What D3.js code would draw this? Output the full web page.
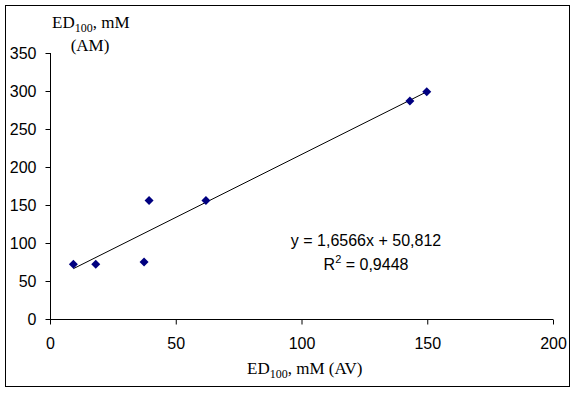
<!DOCTYPE html>
<html>
<head>
<meta charset="utf-8">
<script src="https://cdn.jsdelivr.net/npm/d3@7"></script>
<style>
body { margin: 0; background: #fff; }
</style>
</head>
<body>
<script>
// data
var xValues = [9.3, 18.2, 37.4, 39.4, 62, 143.1, 149.8];
var yValues = [72, 72, 75, 156, 156, 287, 299];
var xTicks = [0, 50, 100, 150, 200];
var yTicks = [0, 50, 100, 150, 200, 250, 300, 350];
var slope = 1.6566, intercept = 50.812;
var eqText = "y = 1,6566x + 50,812";
var r2Text = "0,9448";

var width = 576, height = 393;
var margin = {top: 53, right: 23, bottom: 74, left: 50};

var svg = d3.select("body").append("svg")
	.attr("width", width)
	.attr("height", height);

// outer frame
svg.append("rect")
	.attr("x", 5.5).attr("y", 5.5)
	.attr("width", 564).attr("height", 381)
	.attr("fill", "none").attr("stroke", "#000").attr("stroke-width", 1);

var xScale = d3.scaleLinear().domain([0, 200]).range([margin.left, width - margin.right]);
var yScale = d3.scaleLinear().domain([0, 350]).range([height - margin.bottom, margin.top]);

var xAxis = d3.axisBottom(xScale).tickValues(xTicks).tickSize(5).tickPadding(13);
var yAxis = d3.axisLeft(yScale).tickValues(yTicks).tickSize(5).tickPadding(9);

var gx = svg.append("g")
	.attr("transform", "translate(0," + (yScale(0) + 0.5) + ")")
	.call(xAxis);
var gy = svg.append("g")
	.attr("transform", "translate(" + (xScale(0) + 0.5) + ",0)")
	.call(yAxis);

[gx, gy].forEach(function(g) {
	g.select(".domain").remove();
	g.selectAll("text").attr("font-family", "Arial, 'Liberation Sans', sans-serif")
		.attr("font-size", 16).attr("fill", "#000");
	g.selectAll("line").attr("stroke", "#000");
});
// axis lines
svg.append("line")
	.attr("x1", xScale(0)).attr("x2", xScale(200))
	.attr("y1", yScale(0) + 0.5).attr("y2", yScale(0) + 0.5)
	.attr("stroke", "#000");
svg.append("line")
	.attr("x1", xScale(0) + 0.5).attr("x2", xScale(0) + 0.5)
	.attr("y1", yScale(350)).attr("y2", yScale(0))
	.attr("stroke", "#000");

// trend line
var xMin = d3.min(xValues), xMax = d3.max(xValues);
svg.append("line")
	.attr("x1", xScale(xMin)).attr("y1", yScale(slope * xMin + intercept))
	.attr("x2", xScale(xMax)).attr("y2", yScale(slope * xMax + intercept))
	.attr("stroke", "#000").attr("stroke-width", 1);

// points
var points = xValues.map(function(d, i) { return [d, yValues[i]]; });
svg.selectAll(".pt").data(points).enter().append("path")
	.attr("class", "pt")
	.attr("d", "M0,-4.5L4.5,0L0,4.5L-4.5,0Z")
	.attr("transform", function(d) { return "translate(" + xScale(d[0]) + "," + yScale(d[1]) + ")"; })
	.attr("fill", "#000080");

// equation
var eq = svg.append("g").attr("font-family", "Arial, 'Liberation Sans', sans-serif")
	.attr("font-size", 16).attr("fill", "#000").attr("text-anchor", "middle");
eq.append("text").attr("x", 366).attr("y", 246).text(eqText);
var r2 = eq.append("text").attr("x", 366).attr("y", 270);
r2.append("tspan").text("R");
r2.append("tspan").attr("font-size", 11).attr("dy", -7).text("2");
r2.append("tspan").attr("dy", 7).text(" = " + r2Text);

// axis titles
var serif = "'Times New Roman', 'Liberation Serif', serif";
var yt = svg.append("text").attr("x", 52).attr("y", 28)
	.attr("font-family", serif).attr("font-size", 17);
yt.append("tspan").text("ED");
yt.append("tspan").attr("font-size", 12).attr("dy", 4).text("100");
yt.append("tspan").attr("dy", -4).text(", mM");
svg.append("text").attr("x", 90).attr("y", 51)
	.attr("text-anchor", "middle").attr("font-family", serif).attr("font-size", 17).text("(AM)");

var xt = svg.append("text").attr("x", 247).attr("y", 374)
	.attr("font-family", serif).attr("font-size", 17);
xt.append("tspan").text("ED");
xt.append("tspan").attr("font-size", 12).attr("dy", 4).text("100");
xt.append("tspan").attr("dy", -4).text(", mM (AV)");
</script>
</body>
</html>
